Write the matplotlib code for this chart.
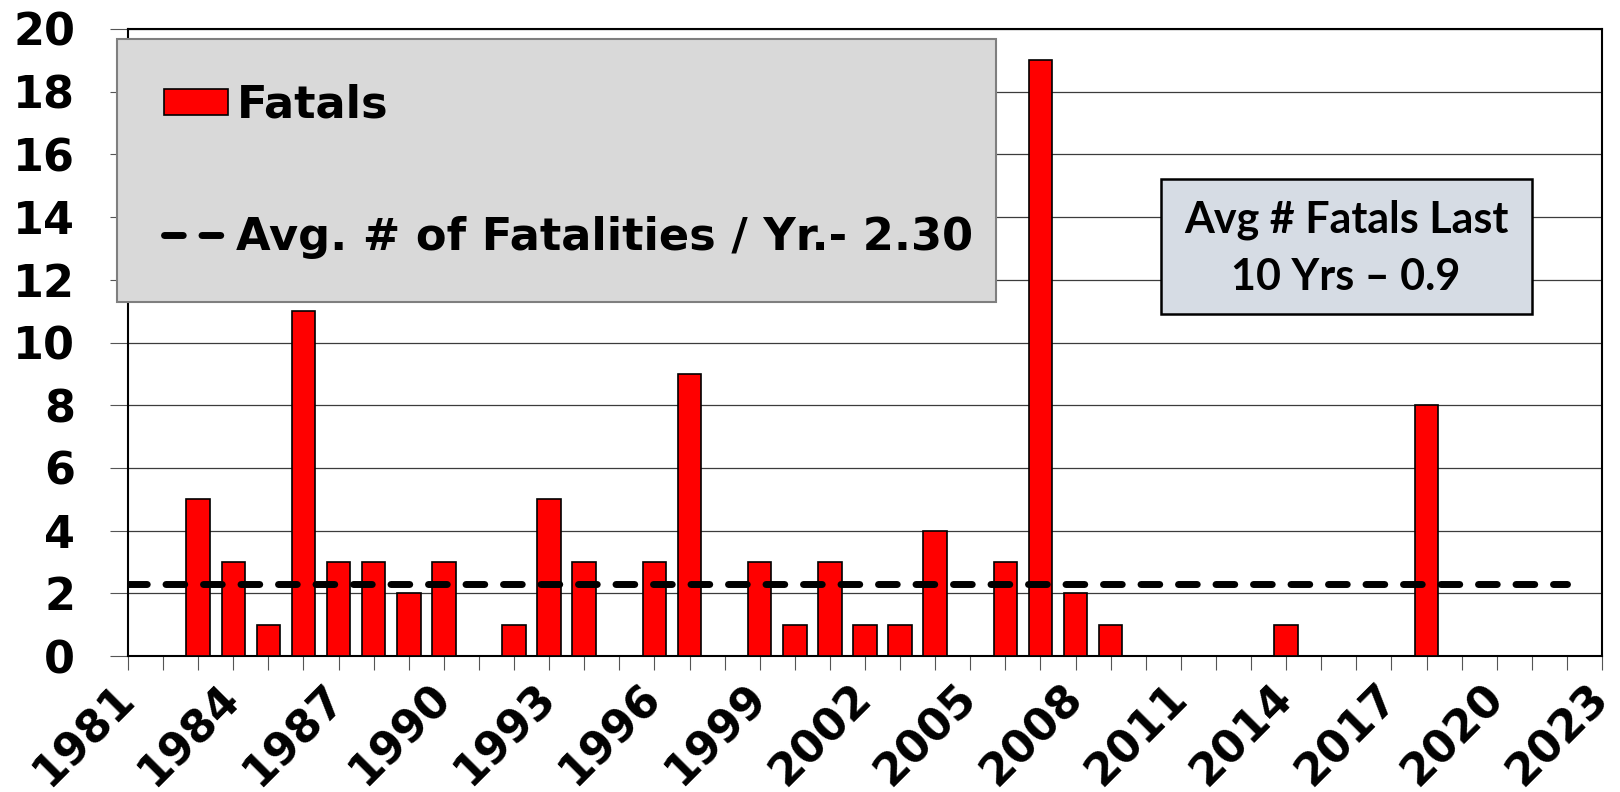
import matplotlib
matplotlib.use("Agg")
import matplotlib.pyplot as plt
from matplotlib.patches import Rectangle
from matplotlib.font_manager import FontProperties

# ---- data ----
years = list(range(1981, 2024))
fatals = [0, 0, 5, 3, 1, 11, 3, 3, 2, 3,
          0, 1, 5, 3, 0, 3, 9, 0, 3, 1,
          3, 1, 1, 4, 0, 3, 19, 2, 1, 0,
          0, 0, 0, 1, 0, 0, 0, 8, 0, 0,
          0, 0, 0]
avg_years = list(range(1981, 2023))
avg_per_year = 2.30
tick_labels = ["1981", "1984", "1987", "1990", "1993", "1996", "1999", "2002",
               "2005", "2008", "2011", "2014", "2017", "2020", "2023"]
y_ticks = [0, 2, 4, 6, 8, 10, 12, 14, 16, 18, 20]
bar_label = "Fatals"
avg_label = "Avg. # of Fatalities / Yr.- 2.30"
box_line1 = "Avg # Fatals Last"
box_line2 = "10 Yrs \u2013 0.9"

W, H = 1620, 792
plt.rcParams["font.family"] = ["DejaVu Sans"]
plt.rcParams["font.weight"] = "bold"

fig = plt.figure(figsize=(W / 100, H / 100), dpi=100)

def fx(px):
    return px / W

def fy(py):
    return 1 - py / H

ax = fig.add_axes([fx(128), fy(656), (1602 - 128) / W, (656 - 29) / H])

bars = ax.bar(years, fatals, width=0.67, color="#ff0000", edgecolor="black",
              linewidth=1.2, zorder=3)
line, = ax.plot(avg_years, [avg_per_year] * len(avg_years), color="black", lw=5,
                dashes=(2.7, 2.7), dash_capstyle="round", zorder=4)

ax.set_xlim(years[0], years[-1])
ax.set_ylim(y_ticks[0], y_ticks[-1])
ax.set_yticks(y_ticks)
ax.set_yticklabels([str(v) for v in y_ticks])
ax.set_xticks(years)
ax.set_xticklabels([str(y) if str(y) in tick_labels else "" for y in years])

ax.yaxis.grid(True, color="#3c3c3c", lw=0.9)
ax.set_axisbelow(True)
for s in ax.spines.values():
    s.set_color("black")
    s.set_linewidth(1.5)

tick_font = FontProperties(family="DejaVu Sans", weight="bold", size=32)
ax.tick_params(axis="y", direction="out", length=13, width=0.8, color="#555555", pad=25)
ax.tick_params(axis="x", direction="out", length=10, width=0.8, color="#555555", pad=15)
for lab in ax.get_yticklabels():
    lab.set_fontproperties(tick_font)
for lab in ax.get_xticklabels():
    lab.set_fontproperties(FontProperties(family="DejaVu Sans", weight="bold", size=32))
    lab.set_rotation(45)
    lab.set_ha("right")
    lab.set_va("center")
    lab.set_rotation_mode("anchor")

# legend background
ax.add_patch(Rectangle((fx(117), fy(302)), (996 - 117) / W, (302 - 39) / H,
                       transform=fig.transFigure, facecolor="#d9d9d9",
                       edgecolor="#7f7f7f", lw=1.5, zorder=4.6, clip_on=False))
leg = ax.legend([bars, line], [bar_label, avg_label], loc="upper left",
                bbox_to_anchor=(fx(164), fy(84)), bbox_transform=fig.transFigure,
                frameon=False, borderpad=0, borderaxespad=0,
                handlelength=1.42, handleheight=0.52, handletextpad=0.2,
                labelspacing=1.98,
                prop=FontProperties(family="DejaVu Sans", weight="bold", size=32.2))
leg.set_zorder(5)

# annotation box
ax.add_patch(Rectangle((fx(1161), fy(314)), (1532 - 1161) / W, (314 - 179) / H,
                       transform=fig.transFigure, facecolor="#d6dce4",
                       edgecolor="black", lw=1.8, zorder=5, clip_on=False))
box_font = FontProperties(family="Lato", weight="bold", size=31)
fig.text(fx(1346), fy(233), box_line1, ha="center", va="baseline",
         fontproperties=box_font, zorder=6)
fig.text(fx(1346), fy(290), box_line2, ha="center", va="baseline",
         fontproperties=box_font, zorder=6)

fig.savefig("out.png", dpi=100)
